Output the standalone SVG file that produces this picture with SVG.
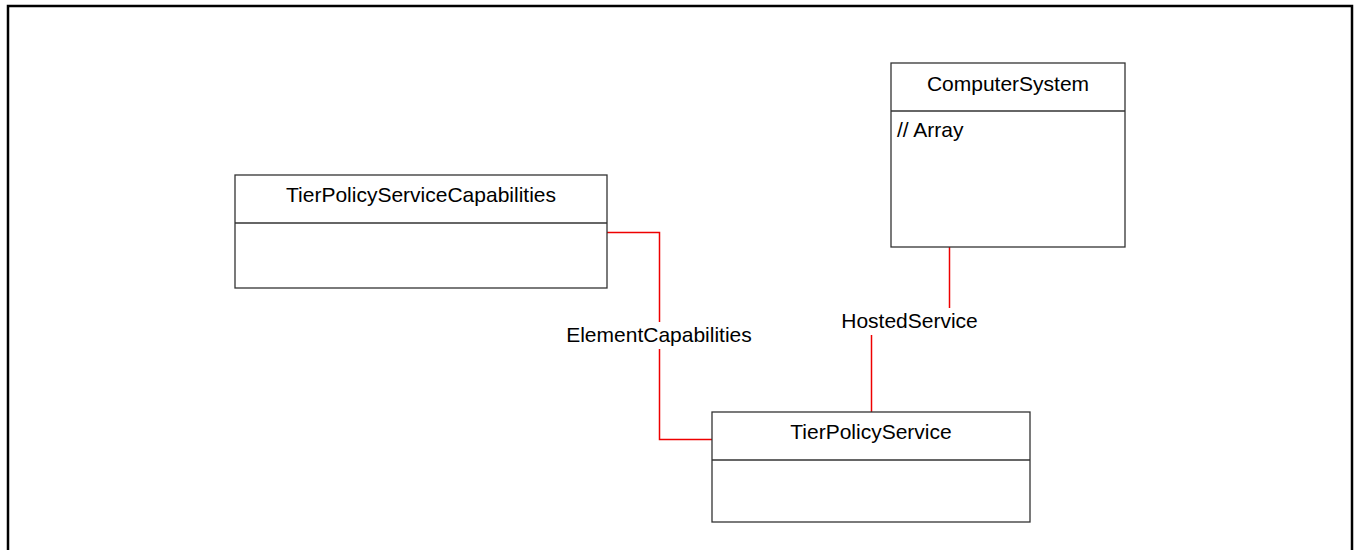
<svg xmlns="http://www.w3.org/2000/svg" width="1354" height="550" viewBox="0 0 1354 550">
<style>
.box{fill:#fff;stroke:#333;stroke-width:1.3}
.div{stroke:#333;stroke-width:1.3}
.t{font-family:"Liberation Sans",Arial,sans-serif;font-size:21px;fill:#000}
.c{text-anchor:middle}
.conn{fill:none;stroke:#ee0000;stroke-width:1.5}
</style>
<rect x="0" y="0" width="1354" height="550" fill="#fff"/>
<rect x="8" y="6" width="1344" height="600" fill="none" stroke="#000" stroke-width="2.5"/>
<g id="connectors">
<polyline class="conn" points="607,232.5 659.5,232.5 659.5,322"/>
<polyline class="conn" points="659.5,349 659.5,439.5 712,439.5"/>
<line class="conn" x1="949.5" y1="247" x2="949.5" y2="308"/>
<line class="conn" x1="871.5" y1="335" x2="871.5" y2="412"/>
<text class="t c" x="659" y="342">ElementCapabilities</text>
<text class="t c" x="909.5" y="328">HostedService</text>
</g>
<g id="TierPolicyServiceCapabilities">
<rect class="box" x="235" y="175" width="372" height="113"/>
<line class="div" x1="235" y1="223" x2="607" y2="223"/>
<text class="t c" x="421" y="202">TierPolicyServiceCapabilities</text>
</g>
<g id="ComputerSystem">
<rect class="box" x="891" y="63" width="234" height="184"/>
<line class="div" x1="891" y1="111" x2="1125" y2="111"/>
<text class="t c" x="1008" y="91">ComputerSystem</text>
<text class="t" x="897" y="137">// Array</text>
</g>
<g id="TierPolicyService">
<rect class="box" x="712" y="412" width="318" height="110"/>
<line class="div" x1="712" y1="460" x2="1030" y2="460"/>
<text class="t c" x="871" y="439">TierPolicyService</text>
</g>
</svg>
